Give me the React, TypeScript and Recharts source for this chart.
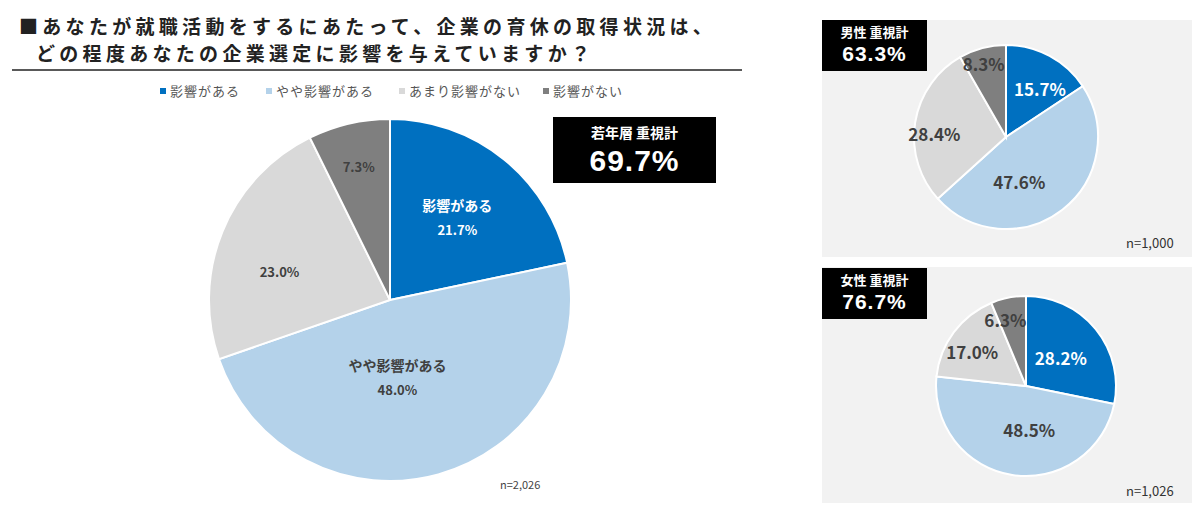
import React from "react";
import { PieChart, Pie, Cell } from "recharts";

const categories = ["影響がある", "やや影響がある", "あまり影響がない", "影響がない"];
const youthValues = [21.7, 48.0, 23.0, 7.3];
const maleValues = [15.7, 47.6, 28.4, 8.3];
const femaleValues = [28.2, 48.5, 17.0, 6.3];
const youthTotal = "69.7%";
const maleTotal = "63.3%";
const femaleTotal = "76.7%";
const youthN = "n=2,026";
const maleN = "n=1,000";
const femaleN = "n=1,026";
const titleLines = [
  "■あなたが就職活動をするにあたって、企業の育休の取得状況は、",
  "どの程度あなたの企業選定に影響を与えていますか？",
];

const COLORS = ["#0070c0", "#b4d2ea", "#d9d9d9", "#7f7f7f"];
const LABEL_COLORS = ["#ffffff", "#404040", "#404040", "#404040"];
const FONT = "'Noto Sans CJK JP', 'Noto Sans', sans-serif";
const NUM_FONT = "'Liberation Sans', Arial, sans-serif";
const RAD = Math.PI / 180;

const mkData = (vals: number[]) => categories.map((name, i) => ({ name, value: vals[i] }));
const youthData = mkData(youthValues);
const maleData = mkData(maleValues);
const femaleData = mkData(femaleValues);

type LabelCfg = { f: number[]; off: number[]; showName: boolean[]; size: number; gap: number };

const makeLabel = (cfg: LabelCfg) => (props: any) => {
  const { cx, cy, midAngle, outerRadius, index, value } = props;
  const r = outerRadius * cfg.f[index];
  const a = (midAngle + cfg.off[index]) * RAD;
  const x = cx + r * Math.cos(a);
  const y = cy - r * Math.sin(a);
  const txt = value.toFixed(1) + "%";
  const fill = LABEL_COLORS[index];
  if (cfg.showName[index]) {
    return (
      <g>
        <text x={x} y={y - cfg.gap / 2} fill={fill} fontSize={cfg.size + 1} fontWeight="bold" fontFamily={FONT} textAnchor="middle" dominantBaseline="central">
          {categories[index]}
        </text>
        <text x={x} y={y + cfg.gap / 2} fill={fill} fontSize={cfg.size} fontWeight="bold" fontFamily={FONT} textAnchor="middle" dominantBaseline="central">
          {txt}
        </text>
      </g>
    );
  }
  return (
    <text x={x} y={y} fill={fill} fontSize={cfg.size} fontWeight="bold" fontFamily={FONT} textAnchor="middle" dominantBaseline="central">
      {txt}
    </text>
  );
};

const youthLabel = makeLabel({ f: [0.59, 0.43, 0.63, 0.76], off: [0, -10, 8, 0], showName: [true, true, false, false], size: 13, gap: 24 });
const maleLabel = makeLabel({ f: [0.64, 0.5, 0.78, 0.83], off: [-7, -21, 6, 2], showName: [false, false, false, false], size: 17, gap: 0 });
const femaleLabel = makeLabel({ f: [0.5, 0.49, 0.71, 0.77], off: [0, 13, 4, 6], showName: [false, false, false, false], size: 17, gap: 0 });

const BlackBox = ({ left, top, width, height, label, value, labelSize, valueSize, labelTop, valueTop }: any) => (
  <div
    style={{
      position: "absolute",
      left,
      top,
      width,
      height,
      background: "#000",
      color: "#fff",
      fontWeight: "bold",
    }}
  >
    <div style={{ position: "absolute", left: 0, width, top: labelTop, textAlign: "center", fontSize: labelSize, lineHeight: 1, fontFamily: FONT }}>{label}</div>
    <div style={{ position: "absolute", left: 0, width, top: valueTop, textAlign: "center", fontSize: valueSize, lineHeight: 1, letterSpacing: 1, fontFamily: NUM_FONT }}>{value}</div>
  </div>
);

export default function App() {
  return (
    <div style={{ position: "absolute", left: 0, top: 0, width: 1200, height: 510, background: "#fff", overflow: "hidden", fontFamily: FONT }}>
      {/* Title */}
      <div style={{ position: "absolute", left: 19, top: 16, fontSize: 19, fontWeight: "bold", color: "#222", letterSpacing: 4.3, lineHeight: 1, whiteSpace: "nowrap" }}>
        {titleLines[0]}
      </div>
      <div style={{ position: "absolute", left: 36, top: 43, fontSize: 19, fontWeight: "bold", color: "#222", letterSpacing: 4.3, lineHeight: 1, whiteSpace: "nowrap" }}>
        {titleLines[1]}
      </div>
      <div style={{ position: "absolute", left: 12, top: 69, width: 730, height: 2, background: "#595959" }} />
      {/* Legend */}
      <div style={{ position: "absolute", left: 160, top: 81, display: "flex", fontSize: 13, color: "#555", letterSpacing: 1, whiteSpace: "nowrap" }}>
        {categories.map((c, i) => (
          <div key={c} style={{ display: "flex", alignItems: "center", marginRight: [26, 25, 22, 0][i] }}>
            <span style={{ display: "inline-block", width: 6, height: 6, background: COLORS[i], marginRight: 4 }} />
            <span>{c}</span>
          </div>
        ))}
      </div>
      {/* Panels */}
      <div style={{ position: "absolute", left: 822, top: 20, width: 370, height: 237, background: "#f2f2f2" }} />
      <div style={{ position: "absolute", left: 822, top: 267, width: 370, height: 236, background: "#f2f2f2" }} />

      <div style={{ position: "absolute", left: 0, top: 0 }}>
        <PieChart width={1200} height={510} margin={{ top: 0, right: 0, bottom: 0, left: 0 }}>
          <Pie
            data={youthData}
            dataKey="value"
            nameKey="name"
            cx={390}
            cy={300}
            outerRadius={181}
            startAngle={90}
            endAngle={-270}
            stroke="#fff"
            strokeWidth={2}
            isAnimationActive={false}
            labelLine={false}
            label={youthLabel}
          >
            {youthData.map((d, i) => (
              <Cell key={d.name} fill={COLORS[i]} />
            ))}
          </Pie>
          <Pie
            data={maleData}
            dataKey="value"
            nameKey="name"
            cx={1006}
            cy={137}
            outerRadius={92}
            startAngle={90}
            endAngle={-270}
            stroke="#fff"
            strokeWidth={2}
            isAnimationActive={false}
            labelLine={false}
            label={maleLabel}
          >
            {maleData.map((d, i) => (
              <Cell key={d.name} fill={COLORS[i]} />
            ))}
          </Pie>
          <Pie
            data={femaleData}
            dataKey="value"
            nameKey="name"
            cx={1026}
            cy={386}
            outerRadius={90}
            startAngle={90}
            endAngle={-270}
            stroke="#fff"
            strokeWidth={2}
            isAnimationActive={false}
            labelLine={false}
            label={femaleLabel}
          >
            {femaleData.map((d, i) => (
              <Cell key={d.name} fill={COLORS[i]} />
            ))}
          </Pie>
        </PieChart>
      </div>

      <BlackBox left={553} top={117} width={163} height={66} label="若年層 重視計" value={youthTotal} labelSize={14} valueSize={30} labelTop={8} valueTop={29} />
      <BlackBox left={822} top={20} width={105} height={51} label="男性 重視計" value={maleTotal} labelSize={13} valueSize={21} labelTop={5} valueTop={23} />
      <BlackBox left={822} top={268} width={105} height={51} label="女性 重視計" value={femaleTotal} labelSize={13} valueSize={21} labelTop={5} valueTop={23} />

      <div style={{ position: "absolute", left: 500, top: 476, fontSize: 11, color: "#444", fontFamily: FONT }}>{youthN}</div>
      <div style={{ position: "absolute", left: 1126, top: 233, fontSize: 13, color: "#333", fontFamily: FONT }}>{maleN}</div>
      <div style={{ position: "absolute", left: 1126, top: 481, fontSize: 13, color: "#333", fontFamily: FONT }}>{femaleN}</div>
    </div>
  );
}
